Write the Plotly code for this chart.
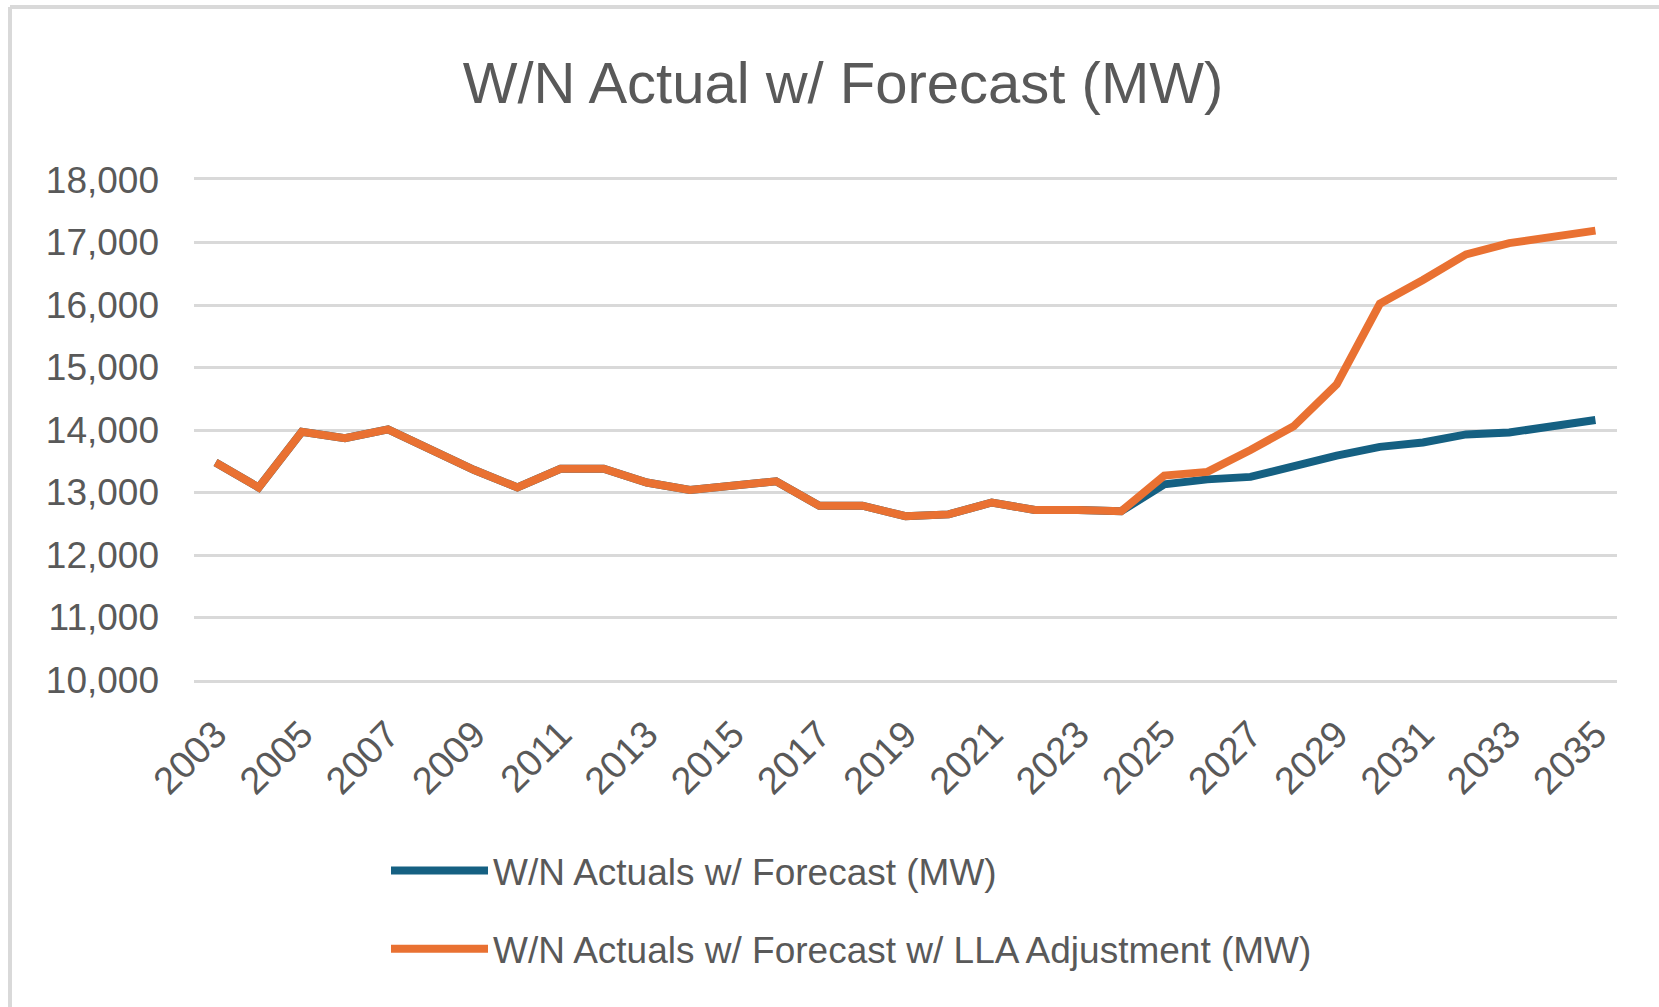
import plotly.graph_objects as go

years = list(range(2003, 2036))

forecast = [13480, 13080, 13970, 13870, 14010, 13680, 13360, 13080, 13380, 13380,
            13160, 13040, 13110, 13180, 12790, 12790, 12620, 12650, 12840, 12720,
            12720, 12700, 13130, 13210, 13250, 13430, 13590, 13730, 13800, 13930,
            13960, 14060, 14160]

forecast_lla = [13480, 13080, 13970, 13870, 14010, 13680, 13360, 13080, 13380, 13380,
                13160, 13040, 13110, 13180, 12790, 12790, 12620, 12650, 12840, 12720,
                12720, 12700, 13270, 13330, 13680, 14060, 14730, 16020, 16400, 16810,
                16990, 17100, 17190]

tick_years = years[::2]
tick_labels = [str(y) for y in tick_years]

series_names = ["W/N Actuals w/ Forecast (MW)",
                "W/N Actuals w/ Forecast w/ LLA Adjustment (MW)"]
colors = ["#156082", "#E97132"]

W, H = 1659, 1007
ml = 194
mt = 180
mr = W - 1617
mb = H - 680
pw = W - ml - mr
ph = H - mt - mb

fig = go.Figure()
for name, vals, col in zip(series_names, [forecast, forecast_lla], colors):
    fig.add_trace(go.Scatter(x=years, y=vals, mode="lines", name=name,
                             legendgroup=name,
                             line=dict(color=col, width=8)))

text_color = "#595959"
grid_color = "#D9D9D9"

# chart frame (only top and left edges visible in the picture)
fx0 = (10 - ml) / pw
fy1 = (H - mb - 7) / ph
fx_right = (W - ml) / pw
fy_bottom = -mb / ph
frame = [
    dict(type="line", xref="paper", yref="paper", x0=fx0, x1=fx0, y0=fy_bottom, y1=fy1,
         line=dict(color=grid_color, width=4), layer="below"),
    dict(type="line", xref="paper", yref="paper", x0=fx0, x1=fx_right, y0=fy1, y1=fy1,
         line=dict(color=grid_color, width=4), layer="below"),
]

fig.update_layout(
    width=W, height=H,
    margin=dict(l=ml, r=mr, t=mt, b=mb),
    paper_bgcolor="white", plot_bgcolor="white",
    title=dict(text="W/N Actual w/ Forecast (MW)", x=843 / W, xanchor="center",
               y=1 - 83 / H, yanchor="middle",
               font=dict(family="Liberation Sans, Arial, sans-serif", size=58, color=text_color)),
    font=dict(family="Liberation Sans, Arial, sans-serif", color=text_color),
    showlegend=True,
    legend=dict(orientation="v", x=(386 - ml) / pw, xanchor="left",
                y=-(840 - (H - mb)) / ph, yanchor="top",
                font=dict(size=37, color=text_color),
                tracegroupgap=27, itemwidth=97, bgcolor="rgba(0,0,0,0)"),
    shapes=frame,
)

fig.update_xaxes(range=[2002.5, 2035.5], tickmode="array", tickvals=tick_years,
                 ticktext=tick_labels, tickangle=-45, showgrid=False, zeroline=False,
                 showline=True, mirror=True, linecolor=grid_color, linewidth=2.5,
                 ticks="", ticklabelstandoff=14,
                 tickfont=dict(size=38, color=text_color))
fig.update_yaxes(range=[10000, 18000], dtick=1000, tickformat=",", showgrid=True,
                 gridcolor=grid_color, gridwidth=2.5, zeroline=False, showline=False,
                 ticks="", ticklabelstandoff=34,
                 tickfont=dict(size=37, color=text_color))

fig.write_html(
    "out.html",
    config={"displayModeBar": False},
    post_script="document.body.style.margin='0';document.body.style.overflow='hidden';",
)
